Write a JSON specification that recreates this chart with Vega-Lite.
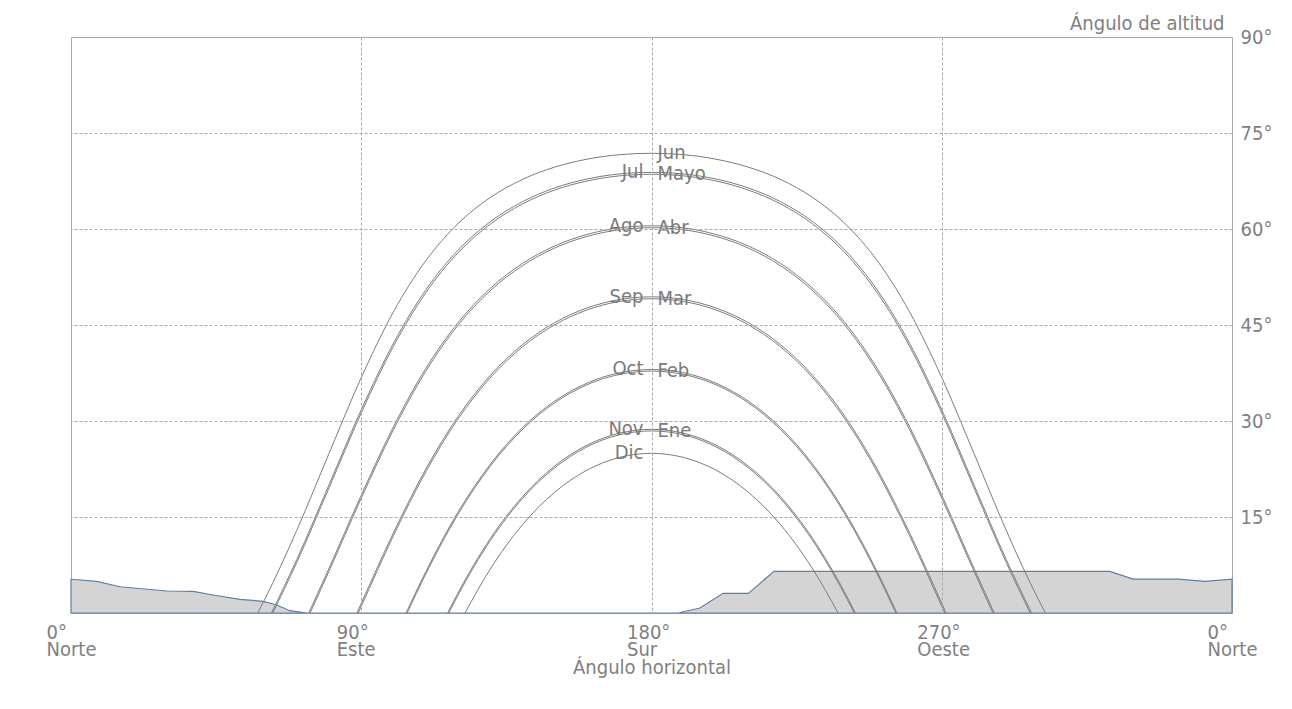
{
  "$schema": "https://vega.github.io/schema/vega-lite/v6.json",
  "width": 1161,
  "height": 576,
  "autosize": "none",
  "padding": {"left": 71, "top": 37, "right": 60, "bottom": 96},
  "background": "white",
  "config": {
    "font": "DejaVu Sans Condensed",
    "view": {"stroke": "#a8a8a8", "strokeWidth": 1}
  },
  "datasets": {
    "terrain": [
      {"az": 0, "alt": 5.27}, {"az": 8, "alt": 4.95}, {"az": 15.2, "alt": 4.1}, {"az": 29.7, "alt": 3.44},
      {"az": 37.9, "alt": 3.38}, {"az": 44.1, "alt": 2.81}, {"az": 52.4, "alt": 2.14}, {"az": 59.6, "alt": 1.82},
      {"az": 63.8, "alt": 1.25}, {"az": 67.9, "alt": 0.36}, {"az": 73.1, "alt": 0}, {"az": 188.3, "alt": 0},
      {"az": 195, "alt": 0.78}, {"az": 202.2, "alt": 3.07}, {"az": 210, "alt": 3.07}, {"az": 218, "alt": 6.5},
      {"az": 322.1, "alt": 6.5}, {"az": 329.4, "alt": 5.3}, {"az": 343.4, "alt": 5.3}, {"az": 351.6, "alt": 4.95},
      {"az": 360, "alt": 5.27}
    ],
    "paths": [
      {"m": "Jun", "az": 57.88, "alt": 0}, {"m": "Jun", "az": 60, "alt": 2.07}, {"m": "Jun", "az": 70, "alt": 12.91},
      {"m": "Jun", "az": 80, "alt": 24.93}, {"m": "Jun", "az": 90, "alt": 36.79}, {"m": "Jun", "az": 100, "alt": 47.07},
      {"m": "Jun", "az": 110, "alt": 55.05}, {"m": "Jun", "az": 120, "alt": 60.84}, {"m": "Jun", "az": 130, "alt": 64.92},
      {"m": "Jun", "az": 140, "alt": 67.75}, {"m": "Jun", "az": 150, "alt": 69.67}, {"m": "Jun", "az": 160, "alt": 70.91},
      {"m": "Jun", "az": 170, "alt": 71.61}, {"m": "Jun", "az": 180, "alt": 71.83}, {"m": "Jun", "az": 190, "alt": 71.61},
      {"m": "Jun", "az": 200, "alt": 70.91}, {"m": "Jun", "az": 210, "alt": 69.67}, {"m": "Jun", "az": 220, "alt": 67.75},
      {"m": "Jun", "az": 230, "alt": 64.92}, {"m": "Jun", "az": 240, "alt": 60.84}, {"m": "Jun", "az": 250, "alt": 55.05},
      {"m": "Jun", "az": 260, "alt": 47.07}, {"m": "Jun", "az": 270, "alt": 36.79}, {"m": "Jun", "az": 280, "alt": 24.93},
      {"m": "Jun", "az": 290, "alt": 12.91}, {"m": "Jun", "az": 300, "alt": 2.07}, {"m": "Jun", "az": 302.12, "alt": 0},

      {"m": "Jul", "az": 62.15, "alt": 0}, {"m": "Jul", "az": 70, "alt": 8.34}, {"m": "Jul", "az": 80, "alt": 20.03},
      {"m": "Jul", "az": 90, "alt": 31.75}, {"m": "Jul", "az": 100, "alt": 42.16}, {"m": "Jul", "az": 110, "alt": 50.48},
      {"m": "Jul", "az": 120, "alt": 56.68}, {"m": "Jul", "az": 130, "alt": 61.14}, {"m": "Jul", "az": 140, "alt": 64.27},
      {"m": "Jul", "az": 150, "alt": 66.42}, {"m": "Jul", "az": 160, "alt": 67.81}, {"m": "Jul", "az": 170, "alt": 68.6},
      {"m": "Jul", "az": 180, "alt": 68.85}, {"m": "Jul", "az": 190, "alt": 68.6}, {"m": "Jul", "az": 200, "alt": 67.81},
      {"m": "Jul", "az": 210, "alt": 66.42}, {"m": "Jul", "az": 220, "alt": 64.27}, {"m": "Jul", "az": 230, "alt": 61.14},
      {"m": "Jul", "az": 240, "alt": 56.68}, {"m": "Jul", "az": 250, "alt": 50.48}, {"m": "Jul", "az": 260, "alt": 42.16},
      {"m": "Jul", "az": 270, "alt": 31.75}, {"m": "Jul", "az": 280, "alt": 20.03}, {"m": "Jul", "az": 290, "alt": 8.34},
      {"m": "Jul", "az": 297.85, "alt": 0},

      {"m": "Mayo", "az": 62.57, "alt": 0}, {"m": "Mayo", "az": 70, "alt": 7.89}, {"m": "Mayo", "az": 80, "alt": 19.55},
      {"m": "Mayo", "az": 90, "alt": 31.26}, {"m": "Mayo", "az": 100, "alt": 41.68}, {"m": "Mayo", "az": 110, "alt": 50.03},
      {"m": "Mayo", "az": 120, "alt": 56.27}, {"m": "Mayo", "az": 130, "alt": 60.76}, {"m": "Mayo", "az": 140, "alt": 63.92},
      {"m": "Mayo", "az": 150, "alt": 66.09}, {"m": "Mayo", "az": 160, "alt": 67.5}, {"m": "Mayo", "az": 170, "alt": 68.3},
      {"m": "Mayo", "az": 180, "alt": 68.55}, {"m": "Mayo", "az": 190, "alt": 68.3}, {"m": "Mayo", "az": 200, "alt": 67.5},
      {"m": "Mayo", "az": 210, "alt": 66.09}, {"m": "Mayo", "az": 220, "alt": 63.92}, {"m": "Mayo", "az": 230, "alt": 60.76},
      {"m": "Mayo", "az": 240, "alt": 56.27}, {"m": "Mayo", "az": 250, "alt": 50.03}, {"m": "Mayo", "az": 260, "alt": 41.68},
      {"m": "Mayo", "az": 270, "alt": 31.26}, {"m": "Mayo", "az": 280, "alt": 19.55}, {"m": "Mayo", "az": 290, "alt": 7.89},
      {"m": "Mayo", "az": 297.43, "alt": 0},

      {"m": "Ago", "az": 73.72, "alt": 0}, {"m": "Ago", "az": 80, "alt": 6.98}, {"m": "Ago", "az": 90, "alt": 18.41},
      {"m": "Ago", "az": 100, "alt": 29.12}, {"m": "Ago", "az": 110, "alt": 38.2}, {"m": "Ago", "az": 120, "alt": 45.36},
      {"m": "Ago", "az": 130, "alt": 50.72}, {"m": "Ago", "az": 140, "alt": 54.62}, {"m": "Ago", "az": 150, "alt": 57.35},
      {"m": "Ago", "az": 160, "alt": 59.15}, {"m": "Ago", "az": 170, "alt": 60.17}, {"m": "Ago", "az": 180, "alt": 60.5},
      {"m": "Ago", "az": 190, "alt": 60.17}, {"m": "Ago", "az": 200, "alt": 59.15}, {"m": "Ago", "az": 210, "alt": 57.35},
      {"m": "Ago", "az": 220, "alt": 54.62}, {"m": "Ago", "az": 230, "alt": 50.72}, {"m": "Ago", "az": 240, "alt": 45.36},
      {"m": "Ago", "az": 250, "alt": 38.2}, {"m": "Ago", "az": 260, "alt": 29.12}, {"m": "Ago", "az": 270, "alt": 18.41},
      {"m": "Ago", "az": 280, "alt": 6.98}, {"m": "Ago", "az": 286.28, "alt": 0},

      {"m": "Abr", "az": 74.13, "alt": 0}, {"m": "Abr", "az": 80, "alt": 6.53}, {"m": "Abr", "az": 90, "alt": 17.94},
      {"m": "Abr", "az": 100, "alt": 28.66}, {"m": "Abr", "az": 110, "alt": 37.77}, {"m": "Abr", "az": 120, "alt": 44.96},
      {"m": "Abr", "az": 130, "alt": 50.35}, {"m": "Abr", "az": 140, "alt": 54.27}, {"m": "Abr", "az": 150, "alt": 57.03},
      {"m": "Abr", "az": 160, "alt": 58.84}, {"m": "Abr", "az": 170, "alt": 59.87}, {"m": "Abr", "az": 180, "alt": 60.2},
      {"m": "Abr", "az": 190, "alt": 59.87}, {"m": "Abr", "az": 200, "alt": 58.84}, {"m": "Abr", "az": 210, "alt": 57.03},
      {"m": "Abr", "az": 220, "alt": 54.27}, {"m": "Abr", "az": 230, "alt": 50.35}, {"m": "Abr", "az": 240, "alt": 44.96},
      {"m": "Abr", "az": 250, "alt": 37.77}, {"m": "Abr", "az": 260, "alt": 28.66}, {"m": "Abr", "az": 270, "alt": 17.94},
      {"m": "Abr", "az": 280, "alt": 6.53}, {"m": "Abr", "az": 285.87, "alt": 0},

      {"m": "Sep", "az": 88.66, "alt": 0}, {"m": "Sep", "az": 90, "alt": 1.51}, {"m": "Sep", "az": 100, "alt": 12.55},
      {"m": "Sep", "az": 110, "alt": 22.47}, {"m": "Sep", "az": 120, "alt": 30.7}, {"m": "Sep", "az": 130, "alt": 37.12},
      {"m": "Sep", "az": 140, "alt": 41.93}, {"m": "Sep", "az": 150, "alt": 45.37}, {"m": "Sep", "az": 160, "alt": 47.66},
      {"m": "Sep", "az": 170, "alt": 48.97}, {"m": "Sep", "az": 180, "alt": 49.4}, {"m": "Sep", "az": 190, "alt": 48.97},
      {"m": "Sep", "az": 200, "alt": 47.66}, {"m": "Sep", "az": 210, "alt": 45.37}, {"m": "Sep", "az": 220, "alt": 41.93},
      {"m": "Sep", "az": 230, "alt": 37.12}, {"m": "Sep", "az": 240, "alt": 30.7}, {"m": "Sep", "az": 250, "alt": 22.47},
      {"m": "Sep", "az": 260, "alt": 12.55}, {"m": "Sep", "az": 270, "alt": 1.51}, {"m": "Sep", "az": 271.34, "alt": 0},

      {"m": "Mar", "az": 89.06, "alt": 0}, {"m": "Mar", "az": 90, "alt": 1.05}, {"m": "Mar", "az": 100, "alt": 12.1},
      {"m": "Mar", "az": 110, "alt": 22.05}, {"m": "Mar", "az": 120, "alt": 30.31}, {"m": "Mar", "az": 130, "alt": 36.76},
      {"m": "Mar", "az": 140, "alt": 41.59}, {"m": "Mar", "az": 150, "alt": 45.04}, {"m": "Mar", "az": 160, "alt": 47.35},
      {"m": "Mar", "az": 170, "alt": 48.67}, {"m": "Mar", "az": 180, "alt": 49.1}, {"m": "Mar", "az": 190, "alt": 48.67},
      {"m": "Mar", "az": 200, "alt": 47.35}, {"m": "Mar", "az": 210, "alt": 45.04}, {"m": "Mar", "az": 220, "alt": 41.59},
      {"m": "Mar", "az": 230, "alt": 36.76}, {"m": "Mar", "az": 240, "alt": 30.31}, {"m": "Mar", "az": 250, "alt": 22.05},
      {"m": "Mar", "az": 260, "alt": 12.1}, {"m": "Mar", "az": 270, "alt": 1.05}, {"m": "Mar", "az": 270.94, "alt": 0},

      {"m": "Oct", "az": 103.9, "alt": 0}, {"m": "Oct", "az": 110, "alt": 6.44}, {"m": "Oct", "az": 120, "alt": 15.75},
      {"m": "Oct", "az": 130, "alt": 23.24}, {"m": "Oct", "az": 140, "alt": 28.97}, {"m": "Oct", "az": 150, "alt": 33.12},
      {"m": "Oct", "az": 160, "alt": 35.91}, {"m": "Oct", "az": 170, "alt": 37.53}, {"m": "Oct", "az": 180, "alt": 38.05},
      {"m": "Oct", "az": 190, "alt": 37.53}, {"m": "Oct", "az": 200, "alt": 35.91}, {"m": "Oct", "az": 210, "alt": 33.12},
      {"m": "Oct", "az": 220, "alt": 28.97}, {"m": "Oct", "az": 230, "alt": 23.24}, {"m": "Oct", "az": 240, "alt": 15.75},
      {"m": "Oct", "az": 250, "alt": 6.44}, {"m": "Oct", "az": 256.1, "alt": 0},

      {"m": "Feb", "az": 104.24, "alt": 0}, {"m": "Feb", "az": 110, "alt": 6.08}, {"m": "Feb", "az": 120, "alt": 15.42},
      {"m": "Feb", "az": 130, "alt": 22.94}, {"m": "Feb", "az": 140, "alt": 28.68}, {"m": "Feb", "az": 150, "alt": 32.85},
      {"m": "Feb", "az": 160, "alt": 35.66}, {"m": "Feb", "az": 170, "alt": 37.27}, {"m": "Feb", "az": 180, "alt": 37.8},
      {"m": "Feb", "az": 190, "alt": 37.27}, {"m": "Feb", "az": 200, "alt": 35.66}, {"m": "Feb", "az": 210, "alt": 32.85},
      {"m": "Feb", "az": 220, "alt": 28.68}, {"m": "Feb", "az": 230, "alt": 22.94}, {"m": "Feb", "az": 240, "alt": 15.42},
      {"m": "Feb", "az": 250, "alt": 6.08}, {"m": "Feb", "az": 255.76, "alt": 0},

      {"m": "Nov", "az": 116.8, "alt": 0}, {"m": "Nov", "az": 120, "alt": 3.13}, {"m": "Nov", "az": 130, "alt": 11.62},
      {"m": "Nov", "az": 140, "alt": 18.18}, {"m": "Nov", "az": 150, "alt": 22.98}, {"m": "Nov", "az": 160, "alt": 26.22},
      {"m": "Nov", "az": 170, "alt": 28.09}, {"m": "Nov", "az": 180, "alt": 28.7}, {"m": "Nov", "az": 190, "alt": 28.09},
      {"m": "Nov", "az": 200, "alt": 26.22}, {"m": "Nov", "az": 210, "alt": 22.98}, {"m": "Nov", "az": 220, "alt": 18.18},
      {"m": "Nov", "az": 230, "alt": 11.62}, {"m": "Nov", "az": 240, "alt": 3.13}, {"m": "Nov", "az": 243.2, "alt": 0},

      {"m": "Ene", "az": 117.15, "alt": 0}, {"m": "Ene", "az": 120, "alt": 2.78}, {"m": "Ene", "az": 130, "alt": 11.3},
      {"m": "Ene", "az": 140, "alt": 17.89}, {"m": "Ene", "az": 150, "alt": 22.7}, {"m": "Ene", "az": 160, "alt": 25.96},
      {"m": "Ene", "az": 170, "alt": 27.84}, {"m": "Ene", "az": 180, "alt": 28.45}, {"m": "Ene", "az": 190, "alt": 27.84},
      {"m": "Ene", "az": 200, "alt": 25.96}, {"m": "Ene", "az": 210, "alt": 22.7}, {"m": "Ene", "az": 220, "alt": 17.89},
      {"m": "Ene", "az": 230, "alt": 11.3}, {"m": "Ene", "az": 240, "alt": 2.78}, {"m": "Ene", "az": 242.85, "alt": 0},

      {"m": "Dic", "az": 122.15, "alt": 0}, {"m": "Dic", "az": 130, "alt": 6.86}, {"m": "Dic", "az": 140, "alt": 13.8},
      {"m": "Dic", "az": 150, "alt": 18.88}, {"m": "Dic", "az": 160, "alt": 22.32}, {"m": "Dic", "az": 170, "alt": 24.3},
      {"m": "Dic", "az": 180, "alt": 24.95}, {"m": "Dic", "az": 190, "alt": 24.3}, {"m": "Dic", "az": 200, "alt": 22.32},
      {"m": "Dic", "az": 210, "alt": 18.88}, {"m": "Dic", "az": 220, "alt": 13.8}, {"m": "Dic", "az": 230, "alt": 6.86},
      {"m": "Dic", "az": 237.85, "alt": 0}
    ],
    "labels": [
      {"m": "Jun", "az": 180, "alt": 71.83, "side": "r"},
      {"m": "Jul", "az": 180, "alt": 68.85, "side": "l"},
      {"m": "Mayo", "az": 180, "alt": 68.55, "side": "r"},
      {"m": "Ago", "az": 180, "alt": 60.5, "side": "l"},
      {"m": "Abr", "az": 180, "alt": 60.2, "side": "r"},
      {"m": "Sep", "az": 180, "alt": 49.4, "side": "l"},
      {"m": "Mar", "az": 180, "alt": 49.1, "side": "r"},
      {"m": "Oct", "az": 180, "alt": 38.05, "side": "l"},
      {"m": "Feb", "az": 180, "alt": 37.8, "side": "r"},
      {"m": "Nov", "az": 180, "alt": 28.7, "side": "l"},
      {"m": "Ene", "az": 180, "alt": 28.45, "side": "r"},
      {"m": "Dic", "az": 180, "alt": 24.95, "side": "l"}
    ]
  },
  "layer": [
    {
      "data": {"name": "terrain"},
      "mark": {"type": "area", "color": "#d4d4d4", "stroke": "#5d80a8", "strokeWidth": 1.2, "opacity": 1},
      "encoding": {
        "x": {
          "field": "az", "type": "quantitative",
          "scale": {"domain": [0, 360], "nice": false, "zero": false},
          "axis": {
            "values": [0, 90, 180, 270, 360],
            "labelExpr": "[(datum.value % 360) + '°', datum.value == 90 ? 'Este' : datum.value == 180 ? 'Sur' : datum.value == 270 ? 'Oeste' : 'Norte']",
            "grid": true,
            "gridDash": [3, 2],
            "gridColor": "#a8a8a8",
            "gridOpacity": {"condition": {"test": "datum.value == 0 || datum.value == 360", "value": 0}, "value": 1},
            "ticks": false,
            "domain": false,
            "zindex": 1,
            "labelAlign": "left",
            "labelOffset": -25,
            "labelBaseline": "top",
            "labelPadding": 9,
            "labelLineHeight": 17,
            "labelFontSize": 20,
            "labelColor": "#808080",
            "labelFont": "DejaVu Sans Condensed",
            "labelOverlap": false,
            "labelFlush": false,
            "title": "Ángulo horizontal",
            "titleFont": "DejaVu Sans Condensed",
            "titleFontSize": 20,
            "titleFontWeight": "normal",
            "titleColor": "#808080",
            "titlePadding": -2
          }
        },
        "y": {
          "field": "alt", "type": "quantitative",
          "scale": {"domain": [0, 90], "nice": false},
          "axis": {
            "orient": "right",
            "values": [15, 30, 45, 60, 75, 90],
            "labelExpr": "datum.value + '°'",
            "grid": true,
            "gridDash": [3, 2],
            "gridColor": "#a8a8a8",
            "gridOpacity": {"condition": {"test": "datum.value == 90", "value": 0}, "value": 1},
            "ticks": false,
            "domain": false,
            "zindex": 1,
            "labelAlign": "left",
            "labelBaseline": "middle",
            "labelPadding": 8,
            "labelFontSize": 20,
            "labelColor": "#808080",
            "labelFont": "DejaVu Sans Condensed",
            "labelOverlap": false,
            "labelFlush": false,
            "title": "Ángulo de altitud",
            "titleFont": "DejaVu Sans Condensed",
            "titleFontSize": 20,
            "titleFontWeight": "normal",
            "titleColor": "#808080",
            "titleAngle": 0,
            "titleAlign": "right",
            "titleBaseline": "alphabetic",
            "titleX": -8,
            "titleY": -8
          }
        }
      }
    },
    {
      "data": {"name": "paths"},
      "mark": {"type": "line", "interpolate": "monotone", "stroke": "#7c7c7c", "strokeWidth": 1},
      "encoding": {
        "x": {"field": "az", "type": "quantitative"},
        "y": {"field": "alt", "type": "quantitative"},
        "detail": {"field": "m"}
      }
    },
    {
      "data": {"name": "labels"},
      "transform": [{"filter": "datum.side == 'l'"}],
      "mark": {"type": "text", "align": "right", "baseline": "middle", "dx": -8, "fontSize": 20, "color": "#7a7a7a", "font": "DejaVu Sans Condensed"},
      "encoding": {
        "x": {"field": "az", "type": "quantitative"},
        "y": {"field": "alt", "type": "quantitative"},
        "text": {"field": "m"}
      }
    },
    {
      "data": {"name": "labels"},
      "transform": [{"filter": "datum.side == 'r'"}],
      "mark": {"type": "text", "align": "left", "baseline": "middle", "dx": 6, "fontSize": 20, "color": "#7a7a7a", "font": "DejaVu Sans Condensed"},
      "encoding": {
        "x": {"field": "az", "type": "quantitative"},
        "y": {"field": "alt", "type": "quantitative"},
        "text": {"field": "m"}
      }
    }
  ]
}
